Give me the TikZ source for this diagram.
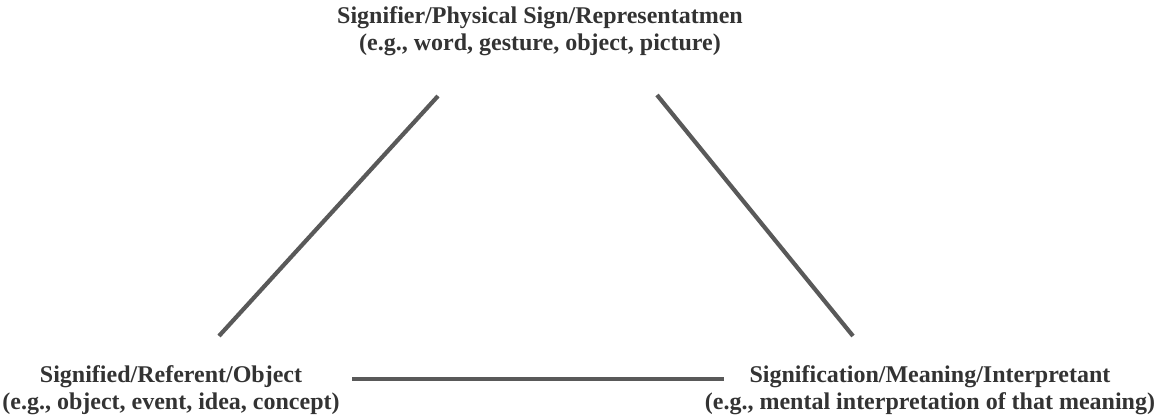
\documentclass[tikz,border=0pt]{standalone}
\usepackage{fontspec}
\setmainfont{Liberation Serif}
\definecolor{linegray}{HTML}{595959}
\definecolor{textgray}{HTML}{333333}
\begin{document}
\begin{tikzpicture}[x=1pt,y=-1pt,
  lbl/.style={inner sep=0pt, text=textgray, align=center, anchor=north, font=\fontsize{24}{27}\selectfont\bfseries},
  edge/.style={draw=linegray, line width=4.2pt}]
\useasboundingbox (0,0) rectangle (1157,417);
\node[lbl] (sign) at (540,6) {Signifier/Physical Sign/Representatmen\\(e.g., word, gesture, object, picture)};
\node[lbl] (obj) at (171,365) {Signified/Referent/Object\\(e.g., object, event, idea, concept)};
\node[lbl] (interp) at (930,365) {Signification/Meaning/Interpretant\\(e.g., mental interpretation of that meaning)};
\coordinate (lt) at (438,96);
\coordinate (lb) at (219,336);
\coordinate (rt) at (657,95);
\coordinate (rb) at (853,336);
\coordinate (bl) at (352,379);
\coordinate (br) at (724,379);
\draw[edge] (lt) -- (lb);
\draw[edge] (rt) -- (rb);
\draw[edge] (bl) -- (br);
\end{tikzpicture}
\end{document}
